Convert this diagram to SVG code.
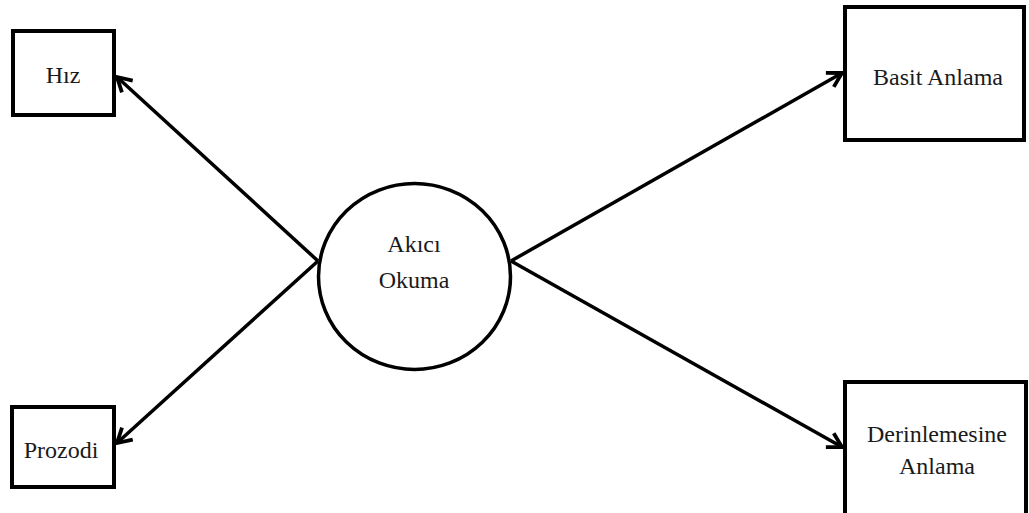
<svg xmlns="http://www.w3.org/2000/svg" width="1029" height="513" viewBox="0 0 1029 513">
  <style>
    .box { fill: #ffffff; stroke: #000000; stroke-width: 4; }
    .oval { fill: #ffffff; stroke: #000000; stroke-width: 3.5; }
    .label { font-family: "Liberation Serif", "Times New Roman", serif; font-size: 24px; fill: #1a1a1a; text-anchor: middle; }
    .link { stroke: #000000; stroke-width: 3.5; fill: none; marker-end: url(#head); }
  </style>
  <defs>
    <marker id="head" viewBox="0 0 20 20" refX="17" refY="10" markerWidth="20" markerHeight="20" markerUnits="userSpaceOnUse" orient="auto">
      <path d="M3,2 L17,10 L3,18" fill="none" stroke="#000000" stroke-width="3.8" stroke-linejoin="miter"/>
    </marker>
  </defs>
  <rect width="1029" height="513" fill="#ffffff"/>

  <g id="connectors">
    <line class="link" x1="318" y1="261" x2="117" y2="77"/>
    <line class="link" x1="318" y1="261" x2="117" y2="443"/>
    <line class="link" x1="511" y1="261" x2="842" y2="73"/>
    <line class="link" x1="511" y1="261" x2="842" y2="447"/>
  </g>

  <g id="hiz">
    <rect class="box" x="13" y="31" width="101" height="84"/>
    <text class="label" x="63" y="83">Hız</text>
  </g>

  <g id="prozodi">
    <rect class="box" x="12" y="407" width="102" height="80"/>
    <text class="label" x="61" y="458">Prozodi</text>
  </g>

  <g id="akici-okuma">
    <ellipse class="oval" cx="414.5" cy="276.5" rx="96" ry="93"/>
    <text class="label" x="414" y="252">Akıcı</text>
    <text class="label" x="414" y="288">Okuma</text>
  </g>

  <g id="basit-anlama">
    <rect class="box" x="845" y="7" width="179" height="133"/>
    <text class="label" x="938" y="85">Basit Anlama</text>
  </g>

  <g id="derinlemesine-anlama">
    <rect class="box" x="845" y="382" width="181" height="140"/>
    <text class="label" x="937" y="442">Derinlemesine</text>
    <text class="label" x="937" y="474">Anlama</text>
  </g>
</svg>
